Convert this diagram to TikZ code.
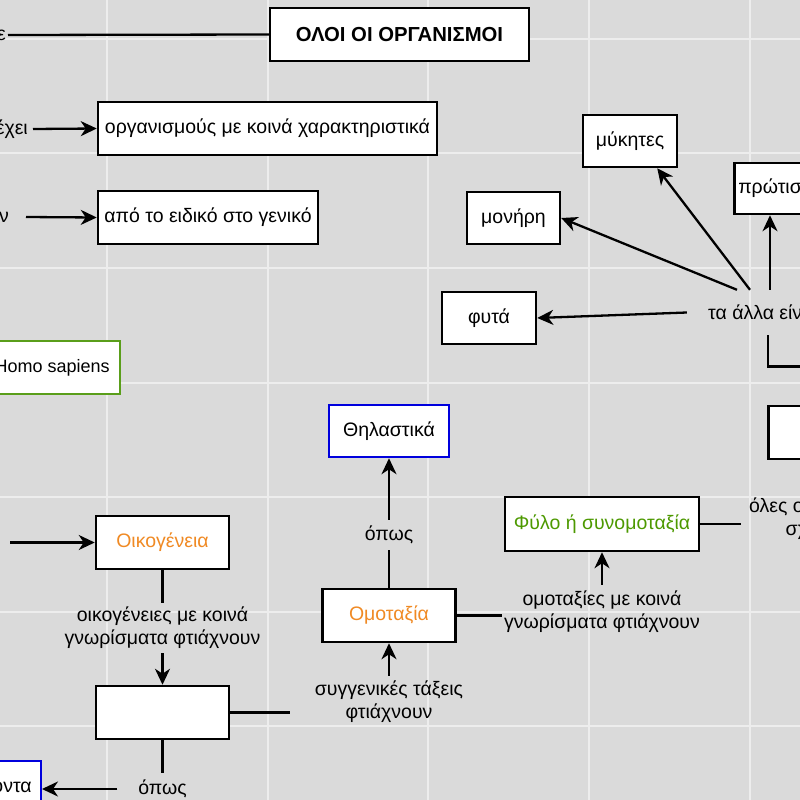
\documentclass[tikz,border=0pt]{standalone}
\usepackage{fontspec}
\setmainfont{Liberation Sans}
\usetikzlibrary{arrows.meta,calc}
\definecolor{bgc}{HTML}{DADADA}
\definecolor{gridc}{HTML}{EDEDED}
\definecolor{orn}{HTML}{F08A24}
\definecolor{gtx}{HTML}{4D9900}
\definecolor{grn}{HTML}{5A9E1A}
\definecolor{blu}{HTML}{0000DD}
\newcommand\mainfs{\fontsize{19.5}{23}\selectfont}
\begin{document}
\begin{tikzpicture}[x=1pt,y=-1pt,font=\mainfs,
  box/.style={draw=black,line width=2.5pt,fill=white,inner sep=0pt,minimum height=53pt},
  lab/.style={inner sep=0pt,align=center},
  conn/.style={line width=2.3pt},
  arr/.style={conn,-{Stealth[length=16pt,width=15pt,inset=5pt]}}]
\useasboundingbox (0,0) rectangle (800,800);
\fill[bgc] (0,0) rectangle (800,800);
\foreach \gx in {107,268,428,589,750} \draw[gridc,line width=1.3pt] (\gx,0) -- (\gx,800);
\foreach \gy in {39,153,268,383,497,612,726} \draw[gridc,line width=1.3pt] (0,\gy) -- (800,\gy);

% boxes
\node[box,font=\fontsize{20.3}{24}\selectfont\bfseries,minimum width=259pt] (title) at (399.5,34.5) {ΟΛΟΙ ΟΙ ΟΡΓΑΝΙΣΜΟΙ};
\node[box,minimum width=339pt] (org) at (267.5,128.5) {οργανισμούς με κοινά χαρακτηριστικά};
\node[box,minimum width=220pt] (spec) at (208,217.5) {από το ειδικό στο γενικό};
\node[box,draw=grn,anchor=east,inner xsep=10pt,font=\fontsize{18}{23}\selectfont] (homo) at (121,367.5) {Homo sapiens};
\node[box,draw=blu,minimum width=120pt,minimum height=52pt] (thil) at (389,431) {Θηλαστικά};
\node[box,text=orn,minimum width=133pt] (omot) at (389,615.5) {Ομοταξία};
\node[box,text=gtx,minimum width=194pt,minimum height=54pt] (fylo) at (602,524) {Φύλο ή συνομοταξία};
\node[box,text=orn,minimum width=133pt] (oik) at (162.5,542.5) {Οικογένεια};
\node[box,minimum width=133pt] (taxi) at (162.5,712.5) {};
\node[box,draw=blu,anchor=east,inner xsep=9pt] (prot) at (42,787.5) {Πρωτεύοντα};
\node[box,anchor=west,minimum width=133pt] (vas) at (767,432.5) {};
\node[box,anchor=west,inner xsep=4pt,minimum height=51pt] (protista) at (733,188.5) {πρώτιστα};
\node[box,minimum width=94pt,minimum height=52pt] (myk) at (630,141) {μύκητες};
\node[box,minimum width=93pt,minimum height=52pt] (mon) at (513.5,218) {μονήρη};
\node[box,minimum width=94pt,minimum height=52pt] (fyta) at (489,318) {φυτά};

% labels
\node[lab,anchor=east,inner xsep=2pt] (ltop) at (8,35) {ε};
\node[lab,anchor=east,inner xsep=5pt] (lexei) at (33,129) {έχει};
\node[lab,anchor=east,inner xsep=17pt] (ln) at (26,217) {ν};
\coordinate (loik) at (10,542.5);
\node[lab,minimum width=152pt,minimum height=45pt] (alla) at (763,312.5) {τα άλλα είναι};
\node[lab,minimum width=200pt,minimum height=54pt] (omoi) at (602,612) {ομοταξίες με κοινά\\γνωρίσματα φτιάχνουν};
\node[lab,minimum height=50pt] (oikl) at (162.5,628) {οικογένειες με κοινά\\γνωρίσματα φτιάχνουν};
\node[lab,minimum width=198pt,minimum height=51pt] (syg) at (389,701.5) {συγγενικές τάξεις\\φτιάχνουν};
\node[lab,minimum width=60pt,minimum height=30pt] (opos1) at (389,535) {όπως};
\node[lab,minimum width=90pt,minimum height=32pt] (opos2) at (162.5,789) {όπως};
\node[lab,anchor=west,inner xsep=8pt] (ola) at (741,519) {όλες οι συνομοταξίες\\σχηματίζουν};
\coordinate (offR) at (815,366.5);
\coordinate (pa) at ($(alla.north)+(7,0)$);

% connectors
\draw[conn] (ltop.east) -- (title.west);
\draw[arr] (lexei.east) -- (org.west);
\draw[arr] (ln.east) -- (spec.west);
\draw[arr] (loik) -- (oik.west);
\draw[conn] (oik.south) -- (oikl.north);
\draw[arr] (oikl.south) -- (taxi.north);
\draw[conn] (taxi.east) -- (taxi.east -| syg.west);
\draw[arr] (syg.north) -- (omot.south);
\draw[conn] (omot.north) -- (opos1.south);
\draw[arr] (opos1.north) -- (thil.south);
\draw[conn] (omot.east) -- (omot.east -| omoi.west);
\draw[arr] (omoi.north) -- (fylo.south);
\draw[conn] (fylo.east) -- (fylo.east -| ola.west);
\draw[conn] (taxi.south) -- (opos2.north);
\draw[arr] (opos2.west) -- (opos2.west -| prot.east);
\draw[arr] (alla.west) -- (fyta.east);
\draw[arr] ($(alla.north)+(-26,0)$) -- (mon.east);
\draw[arr] ($(alla.north)+(-13,0)$) -- ($(myk.south east)+(-21,0)$);
\draw[arr] (pa) -- (pa |- protista.south);
\draw[conn] ($(alla.south)+(5,0)$) |- (offR);
\end{tikzpicture}
\end{document}
